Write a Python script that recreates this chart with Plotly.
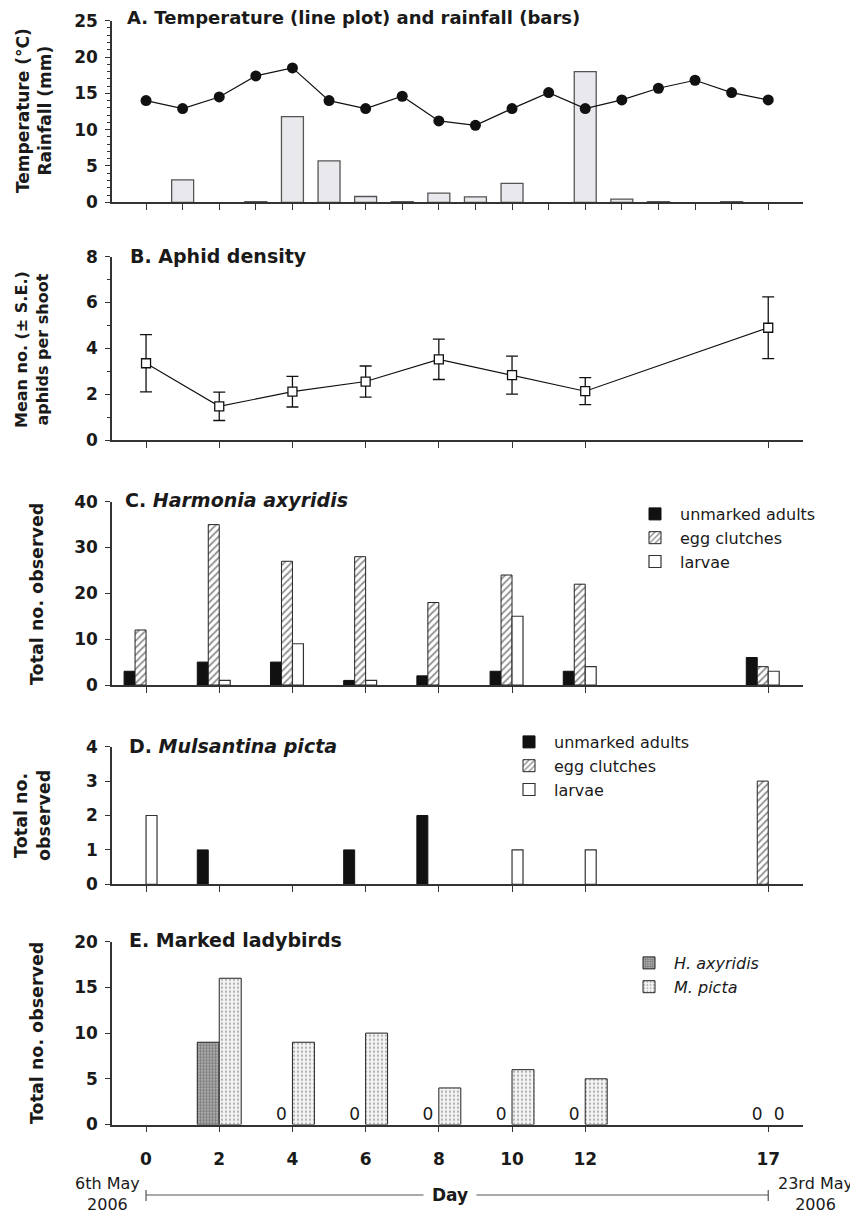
import plotly.graph_objects as go

# ---------------- data ----------------
days_all = list(range(18))
temperature = [14.0, 12.9, 14.5, 17.4, 18.5, 14.0, 12.9, 14.6, 11.2, 10.6,
               12.9, 15.1, 12.9, 14.1, 15.7, 16.8, 15.1, 14.1]
rainfall = [0, 3.1, 0, 0.1, 11.8, 5.7, 0.8, 0.1, 1.25, 0.75,
            2.6, 0, 18.0, 0.45, 0.1, 0, 0.1, 0]

sample_days = [0, 2, 4, 6, 8, 10, 12, 17]
aphid_mean = [3.35, 1.47, 2.11, 2.55, 3.52, 2.83, 2.13, 4.90]
aphid_se = [1.25, 0.62, 0.67, 0.68, 0.88, 0.83, 0.59, 1.35]

ha_adults = [3, 5, 5, 1, 2, 3, 3, 6]
ha_eggs = [12, 35, 27, 28, 18, 24, 22, 4]
ha_larvae = [0, 1, 9, 1, 0, 15, 4, 3]

mp_adults = [0, 1, 0, 1, 2, 0, 0, 0]
mp_eggs = [0, 0, 0, 0, 0, 0, 0, 3]
mp_larvae = [2, 0, 0, 0, 0, 1, 1, 0]

marked_ha = [None, 9, 0, 0, 0, 0, 0, 0]
marked_mp = [None, 16, 9, 10, 4, 6, 5, 0]

tick_days_labels = [str(d) for d in sample_days]
start_label = "6th May<br>2006"
end_label = "23rd May<br>2006"


def nz(vals):
    """zero-height bars are not drawn (avoid flat outline on the axis)"""
    return [v if v else None for v in vals]


# ---------------- geometry helpers ----------------
# the page body has an 8px margin, so the figure starts at page pixel (8, 8)
OFF = 8
W, H = 858 - OFF, 1215 - OFF
L_PAGE, R_PAGE = 112, 803
L, R = L_PAGE - OFF, R_PAGE - OFF


def fx(px):
    return (px - L_PAGE) / (R_PAGE - L_PAGE)


def fy(py):
    return 1 - (py - OFF) / H


FONT = "DejaVu Sans"
INK = "#1a1a1a"
AX = "#333333"

panels = [(20.7, 202.3), (256.7, 440.0), (501.7, 685.0), (746.7, 884.3), (941.7, 1124.5)]
yranges = [[0, 25], [0, 8], [0, 40], [0, 4], [0, 20]]
ydticks = [5, 2, 10, 1, 5]
minors = [1, 1, None, None, None]

fig = go.Figure()

# ---------- A ----------
fig.add_trace(go.Bar(x=days_all, y=nz(rainfall), width=0.6, offset=-0.3,
                     marker=dict(color="#e9e9ed", line=dict(color="#555555", width=1.3)),
                     xaxis="x", yaxis="y", showlegend=False))
fig.add_trace(go.Scatter(x=days_all, y=temperature, mode="lines+markers",
                         line=dict(color="#111111", width=1.2),
                         marker=dict(symbol="circle", size=11, color="#111111"),
                         xaxis="x", yaxis="y", showlegend=False))

# ---------- B ----------
fig.add_trace(go.Scatter(x=sample_days, y=aphid_mean, mode="lines+markers",
                         line=dict(color="#111111", width=1.1),
                         marker=dict(symbol="square", size=9, color="white",
                                     line=dict(color="#111111", width=1.3)),
                         error_y=dict(type="data", array=aphid_se, visible=True,
                                      color="#111111", thickness=1.3, width=6),
                         xaxis="x2", yaxis="y2", showlegend=False))

# ---------- C & D ----------
egg_pattern = dict(shape="/", fgcolor="#222222", bgcolor="white", size=5, solidity=0.35)
for (ad, eg, la, xa, ya, lg) in [(ha_adults, ha_eggs, ha_larvae, "x3", "y3", "legend"),
                                 (mp_adults, mp_eggs, mp_larvae, "x4", "y4", "legend2")]:
    fig.add_trace(go.Bar(x=sample_days, y=nz(ad), width=0.3, offset=-0.6, name="unmarked adults",
                         marker=dict(color="#111111", line=dict(color="#111111", width=1)),
                         xaxis=xa, yaxis=ya, legend=lg))
    fig.add_trace(go.Bar(x=sample_days, y=nz(eg), width=0.3, offset=-0.3, name="egg clutches",
                         marker=dict(color="white", line=dict(color="#222222", width=1),
                                     pattern=egg_pattern),
                         xaxis=xa, yaxis=ya, legend=lg))
    fig.add_trace(go.Bar(x=sample_days, y=nz(la), width=0.3, offset=0.0, name="larvae",
                         marker=dict(color="white", line=dict(color="#333333", width=1.2)),
                         xaxis=xa, yaxis=ya, legend=lg))

# ---------- E ----------
fig.add_trace(go.Bar(x=sample_days, y=nz(marked_ha), width=0.6, offset=-0.6, name="<i>H. axyridis</i>",
                     marker=dict(color="#9a9a9a", line=dict(color="#222222", width=1),
                                 pattern=dict(shape="+", fgcolor="#4a4a4a", bgcolor="#a8a8a8",
                                              size=3, solidity=0.4)),
                     xaxis="x5", yaxis="y5", legend="legend3"))
fig.add_trace(go.Bar(x=sample_days, y=nz(marked_mp), width=0.6, offset=0.0, name="<i>M. picta</i>",
                     marker=dict(color="#f2f2f2", line=dict(color="#222222", width=1),
                                 pattern=dict(shape=".", fgcolor="#6a6a6a", bgcolor="#f4f4f4",
                                              size=4, solidity=0.25)),
                     xaxis="x5", yaxis="y5", legend="legend3"))

# zero labels
zx, zy, zt = [], [], []
for d, h, m in zip(sample_days, marked_ha, marked_mp):
    if h == 0:
        zx.append(d - 0.3); zy.append(h); zt.append(str(h))
    if m == 0:
        zx.append(d + 0.3); zy.append(m); zt.append(str(m))
fig.add_trace(go.Scatter(x=zx, y=zy, text=zt, mode="text", textposition="top center",
                         textfont=dict(family=FONT, size=17, color=INK),
                         xaxis="x5", yaxis="y5", showlegend=False, cliponaxis=False))

# ---------------- axes ----------------
layout = dict(width=W, height=H, margin=dict(l=L, r=W - R, t=0, b=0, autoexpand=False),
              plot_bgcolor="white", paper_bgcolor="white", barmode="overlay",
              font=dict(family=FONT, color=INK), showlegend=True)

for i in range(5):
    sfx = "" if i == 0 else str(i + 1)
    top, bot = panels[i]
    xa = dict(domain=[0, 1], range=[-0.93, 17.95], anchor="y" + sfx,
              showline=True, linecolor=AX, linewidth=1.6, ticks="outside",
              ticklen=6, tickwidth=1.2, tickcolor=AX, showgrid=False, zeroline=False,
              tickmode="array", showticklabels=False, automargin=False)
    if i == 0:
        xa["tickvals"] = days_all
    else:
        xa["tickvals"] = sample_days
    if i == 4:
        xa["showticklabels"] = True
        xa["ticktext"] = tick_days_labels
        xa["tickfont"] = dict(family=FONT, size=17, weight="bold", color=INK)
        xa["ticklabelstandoff"] = 12
    ya = dict(domain=[fy(bot), fy(top)], range=yranges[i], anchor="x" + sfx,
              showline=True, linecolor=AX, linewidth=1.6, ticks="outside",
              ticklen=5, tickwidth=1.2, tickcolor=AX, showgrid=False, zeroline=False,
              dtick=ydticks[i], tick0=0, automargin=False,
              tickfont=dict(family=FONT, size=17, weight="bold", color=INK),
              ticklabelstandoff=4)
    if minors[i]:
        ya["minor"] = dict(dtick=minors[i], ticks="outside", ticklen=3,
                           tickwidth=1, tickcolor=AX)
    layout["xaxis" + sfx] = xa
    layout["yaxis" + sfx] = ya

leg_common = dict(bgcolor="rgba(0,0,0,0)", font=dict(family=FONT, size=16, color=INK),
                  xanchor="left", yanchor="top", traceorder="normal", itemwidth=40)
layout["legend"] = dict(leg_common, x=fx(630), y=fy(497))
layout["legend2"] = dict(leg_common, x=fx(504), y=fy(725))
layout["legend3"] = dict(leg_common, x=fx(624), y=fy(946))

fig.update_layout(**layout)

# ---------------- annotations ----------------
ann = []


def title(text, px, py, size):
    ann.append(dict(text=text, x=fx(px), y=fy(py), xref="paper", yref="paper",
                    xanchor="left", yanchor="middle", showarrow=False,
                    font=dict(family=FONT, size=size, weight="bold", color=INK)))


title("A. Temperature (line plot) and rainfall (bars)", 125, 17, 18)
title("B. Aphid density", 128, 256, 19)
title("C. <i>Harmonia axyridis</i>", 123, 500, 19)
title("D. <i>Mulsantina picta</i>", 127, 746, 19)
title("E. Marked ladybirds", 127, 940, 19)


def ytitle(text, px, py, size):
    ann.append(dict(text=text, x=fx(px), y=fy(py), xref="paper", yref="paper",
                    xanchor="center", yanchor="middle", showarrow=False, textangle=-90,
                    font=dict(family=FONT, size=size, weight="bold", color=INK)))


ytitle("Temperature (°C)<br>Rainfall (mm)", 34, 111, 17)
ytitle("Mean no. (± S.E.)<br>aphids per shoot", 32, 350, 16)
ytitle("Total no. observed", 37, 594, 17.5)
ytitle("Total no.<br>observed", 32, 816, 17.5)
ytitle("Total no. observed", 37, 1033, 17.5)

ann.append(dict(text=start_label, x=fx(107), y=fy(1194), xref="paper", yref="paper",
                xanchor="center", yanchor="middle", showarrow=False,
                font=dict(family=FONT, size=16, color=INK)))
ann.append(dict(text=end_label, x=fx(815), y=fy(1194), xref="paper", yref="paper",
                xanchor="center", yanchor="middle", showarrow=False,
                font=dict(family=FONT, size=16, color=INK)))
fig.update_layout(annotations=ann)

# day range line with end caps
line_y = fy(1195)
fig.add_shape(type="line", xref="x5", yref="paper", x0=sample_days[0], x1=sample_days[-1],
              y0=line_y, y1=line_y, line=dict(color="#555555", width=1.2))
for d in (sample_days[0], sample_days[-1]):
    fig.add_shape(type="line", xref="x5", yref="paper", x0=d, x1=d,
                  y0=fy(1190), y1=fy(1201), line=dict(color="#555555", width=1.2))
fig.add_annotation(text="Day", x=(sample_days[0] + sample_days[-1]) / 2 - 0.2, y=fy(1195),
                   xref="x5", yref="paper", xanchor="center", yanchor="middle",
                   showarrow=False, bgcolor="white", borderpad=8,
                   font=dict(family=FONT, size=17, weight="bold", color=INK))

fig.write_html("out.html")
